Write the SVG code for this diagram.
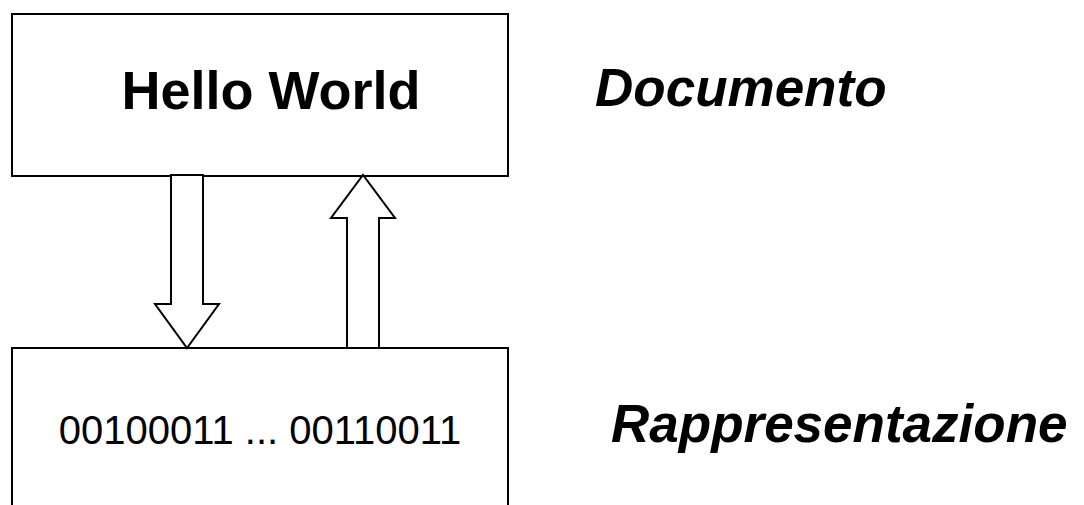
<svg xmlns="http://www.w3.org/2000/svg" width="1084" height="505" viewBox="0 0 1084 505">
  <style>
    .box { fill: #fff; stroke: #000; stroke-width: 2; }
    .arrow { fill: #fff; stroke: #000; stroke-width: 2; stroke-linejoin: miter; }
    .title { font-family: "Liberation Sans", Arial, sans-serif; font-weight: bold; font-size: 54px; fill: #000; }
    .label { font-family: "Liberation Sans", Arial, sans-serif; font-weight: bold; font-style: italic; font-size: 53px; fill: #000; }
    .bits { font-family: "Liberation Sans", Arial, sans-serif; font-size: 40px; fill: #000; }
  </style>
  <rect width="1084" height="505" fill="#fff"/>

  <!-- document box -->
  <g id="documento">
    <rect class="box" x="12" y="14" width="496" height="162"/>
    <text class="title" x="271" y="108.5" text-anchor="middle">Hello World</text>
  </g>

  <!-- representation box, runs off the bottom edge -->
  <g id="rappresentazione">
    <rect class="box" x="12" y="348" width="496" height="180"/>
    <text class="bits" x="260" y="444" text-anchor="middle">00100011 ... 00110011</text>
  </g>

  <!-- block arrows between the two levels -->
  <g id="connectors">
    <path class="arrow" d="M171,175 L203,175 L203,304 L219,304 L187,348 L155,304 L171,304 Z"/>
    <path class="arrow" d="M347,348 L379,348 L379,218 L395,218 L363,175 L331,218 L347,218 Z"/>
  </g>

  <!-- side labels -->
  <g id="labels">
    <text class="label" x="595" y="106">Documento</text>
    <text class="label" x="611" y="442">Rappresentazione</text>
  </g>
</svg>
